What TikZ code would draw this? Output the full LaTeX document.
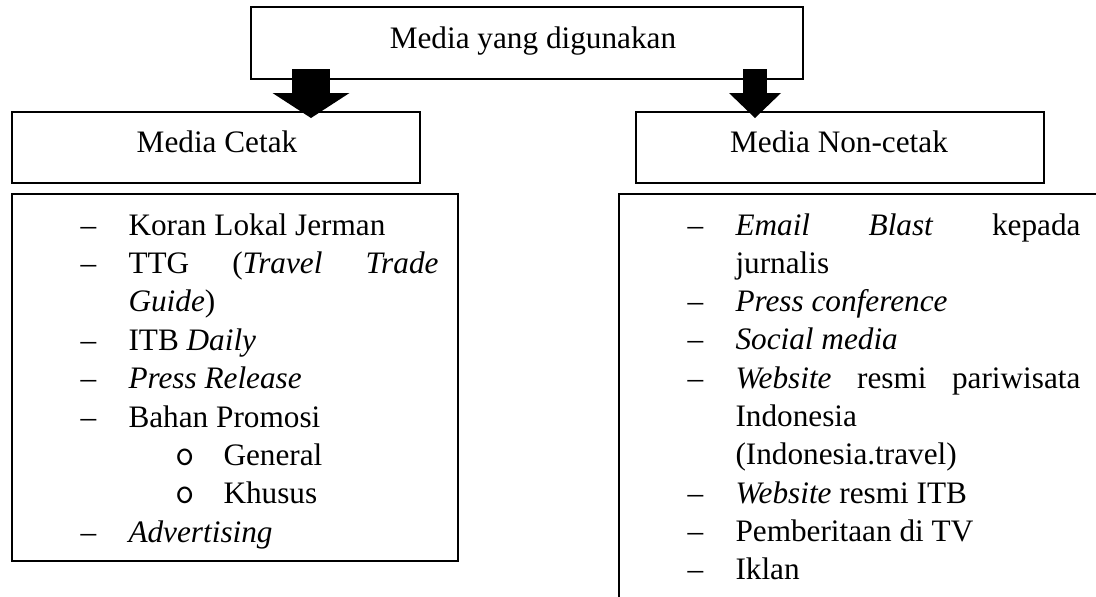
\documentclass[tikz,border=0pt]{standalone}
\usepackage{fontspec}
\setmainfont{Liberation Serif}
\usetikzlibrary{positioning,arrows.meta,fit,calc}
\tikzset{
  box/.style      = {draw, line width=0.8pt, inner sep=0pt},
  head/.style     = {font=\fontsize{12.5}{15}\selectfont, anchor=base, inner sep=0pt},
  entry/.style    = {font=\fontsize{12.5}{15}\selectfont, anchor=base west, inner sep=0pt},
  subdot/.style   = {entry, font=\fontsize{15}{15}\selectfont\ttfamily},
  bigarrow/.style n args = {2}{-{Triangle[width=#2, length=10pt, line width=0pt]},
                               line width=#1}
}

\begin{document}
\begin{tikzpicture}[x=0.4pt, y=-0.4pt]
  \useasboundingbox (0,0) rectangle (1096,596);
  \clip (0,0) rectangle (1096,596);

  % boxes
  \node[box, fit={(251,7) (803,79)}]     (top)  {};
  \node[box, fit={(12,112) (420,183)}]   (cetak) {};
  \node[box, fit={(636,112) (1044,183)}] (non)  {};
  \node[box, fit={(12,194) (458,561)}]   (listL) {};
  \node[box, fit={(619,194) (1120,620)}] (listR) {};

  \node[head] (tTop)   at (533,48)  {Media yang digunakan};
  \node[head] (tCetak) at (217,152) {Media Cetak};
  \node[head] (tNon)   at (839,152) {Media Non-cetak};

  % block arrows
  \coordinate (aL) at (311,69);
  \coordinate (bL) at (311,118);
  \coordinate (aR) at (755,69);
  \coordinate (bR) at (755,118);
  \draw[bigarrow={15.2pt}{30.8pt}] (aL) -- (bL);
  \draw[bigarrow={9.6pt}{20.8pt}]  (aR) -- (bR);

  % left list
  \foreach \k in {0,1,3,4,5,8}
    \node[entry] (dL\k) at (80,{235+38.4*\k}) {--};
  \foreach \k in {6,7}
    \node[subdot] (oL\k) at (175,{235+38.4*\k}) {o};
  \node[entry] (k0) at (128,235)   {Koran Lokal Jerman};
  \node[entry] (k1) at (128,273.4) {\makebox[124pt][s]{TTG (\textit{Travel} \textit{Trade}}};
  \node[entry] (k2) at (128,311.8) {\textit{Guide})};
  \node[entry] (k3) at (128,350.2) {ITB \textit{Daily}};
  \node[entry] (k4) at (128,388.6) {\textit{Press Release}};
  \node[entry] (k5) at (128,427)   {Bahan Promosi};
  \node[entry] (k6) at (223,465.4) {General};
  \node[entry] (k7) at (223,503.8) {Khusus};
  \node[entry] (k8) at (128,542.2) {\textit{Advertising}};

  % right list
  \foreach \k in {0,2,3,4,7,8,9}
    \node[entry] (dR\k) at (687,{235+38.3*\k}) {--};
  \node[entry] (n0) at (735,235)   {\makebox[138pt][s]{\textit{Email} \textit{Blast} kepada}};
  \node[entry] (n1) at (735,273.3) {jurnalis};
  \node[entry] (n2) at (735,311.6) {\textit{Press conference}};
  \node[entry] (n3) at (735,349.9) {\textit{Social media}};
  \node[entry] (n4) at (735,388.2) {\makebox[138pt][s]{\textit{Website} resmi pariwisata}};
  \node[entry] (n5) at (735,426.5) {Indonesia};
  \node[entry] (n6) at (735,464.8) {(Indonesia.travel)};
  \node[entry] (n7) at (735,503.1) {\textit{Website} resmi ITB};
  \node[entry] (n8) at (735,541.4) {Pemberitaan di TV};
  \node[entry] (n9) at (735,579.7) {Iklan};
\end{tikzpicture}
\end{document}
